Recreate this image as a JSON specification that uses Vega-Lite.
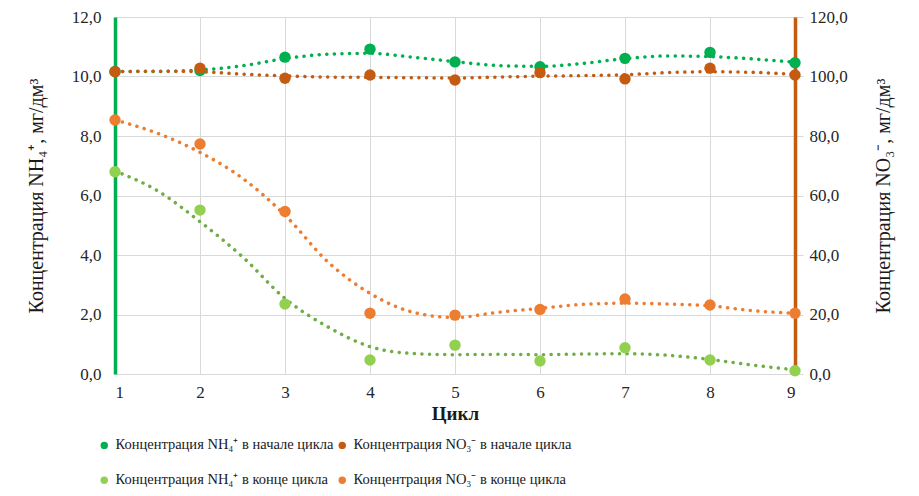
{
  "$schema": "https://vega.github.io/schema/vega-lite/v6.json",
  "width": 680,
  "height": 357,
  "autosize": {"type": "none"},
  "padding": {"left": 115, "top": 17, "right": 124, "bottom": 122},
  "background": "white",
  "config": {
    "font": "Liberation Serif",
    "view": {"stroke": null},
    "axis": {"labelFont": "Liberation Serif", "titleFont": "Liberation Serif", "labelColor": "#262626", "titleColor": "#1a1a1a", "gridColor": "#d9d9d9", "gridWidth": 1}
  },
  "datasets": {
    "points": [
      {"cycle": 1, "series": "NH4 start", "value": 10.17},
      {"cycle": 2, "series": "NH4 start", "value": 10.2},
      {"cycle": 3, "series": "NH4 start", "value": 10.65},
      {"cycle": 4, "series": "NH4 start", "value": 10.92},
      {"cycle": 5, "series": "NH4 start", "value": 10.49},
      {"cycle": 6, "series": "NH4 start", "value": 10.33},
      {"cycle": 7, "series": "NH4 start", "value": 10.61},
      {"cycle": 8, "series": "NH4 start", "value": 10.81},
      {"cycle": 9, "series": "NH4 start", "value": 10.46},
      {"cycle": 1, "series": "NH4 end", "value": 6.8},
      {"cycle": 2, "series": "NH4 end", "value": 5.51},
      {"cycle": 3, "series": "NH4 end", "value": 2.35},
      {"cycle": 4, "series": "NH4 end", "value": 0.47},
      {"cycle": 5, "series": "NH4 end", "value": 0.97},
      {"cycle": 6, "series": "NH4 end", "value": 0.44},
      {"cycle": 7, "series": "NH4 end", "value": 0.88},
      {"cycle": 8, "series": "NH4 end", "value": 0.47},
      {"cycle": 9, "series": "NH4 end", "value": 0.11},
      {"cycle": 1, "series": "NO3 start", "value": 101.6},
      {"cycle": 2, "series": "NO3 start", "value": 102.8},
      {"cycle": 3, "series": "NO3 start", "value": 99.4},
      {"cycle": 4, "series": "NO3 start", "value": 100.5},
      {"cycle": 5, "series": "NO3 start", "value": 98.8},
      {"cycle": 6, "series": "NO3 start", "value": 101.3},
      {"cycle": 7, "series": "NO3 start", "value": 99.2},
      {"cycle": 8, "series": "NO3 start", "value": 102.8},
      {"cycle": 9, "series": "NO3 start", "value": 100.5},
      {"cycle": 1, "series": "NO3 end", "value": 85.4},
      {"cycle": 2, "series": "NO3 end", "value": 77.3},
      {"cycle": 3, "series": "NO3 end", "value": 54.6},
      {"cycle": 4, "series": "NO3 end", "value": 20.4},
      {"cycle": 5, "series": "NO3 end", "value": 19.8},
      {"cycle": 6, "series": "NO3 end", "value": 21.7},
      {"cycle": 7, "series": "NO3 end", "value": 25.2},
      {"cycle": 8, "series": "NO3 end", "value": 23.2},
      {"cycle": 9, "series": "NO3 end", "value": 20.4}
    ],
    "trends": [
      {"cycle": 1, "series": "NH4 start", "value": 10.17},
      {"cycle": 1.5, "series": "NH4 start", "value": 10.17},
      {"cycle": 2, "series": "NH4 start", "value": 10.22},
      {"cycle": 2.5, "series": "NH4 start", "value": 10.36},
      {"cycle": 3, "series": "NH4 start", "value": 10.6},
      {"cycle": 3.5, "series": "NH4 start", "value": 10.75},
      {"cycle": 4, "series": "NH4 start", "value": 10.78},
      {"cycle": 4.5, "series": "NH4 start", "value": 10.65},
      {"cycle": 5, "series": "NH4 start", "value": 10.5},
      {"cycle": 5.5, "series": "NH4 start", "value": 10.37},
      {"cycle": 6, "series": "NH4 start", "value": 10.34},
      {"cycle": 6.5, "series": "NH4 start", "value": 10.44},
      {"cycle": 7, "series": "NH4 start", "value": 10.6},
      {"cycle": 7.5, "series": "NH4 start", "value": 10.69},
      {"cycle": 8, "series": "NH4 start", "value": 10.67},
      {"cycle": 8.5, "series": "NH4 start", "value": 10.59},
      {"cycle": 9, "series": "NH4 start", "value": 10.48},
      {"cycle": 1, "series": "NH4 end", "value": 6.82},
      {"cycle": 1.5, "series": "NH4 end", "value": 6.16},
      {"cycle": 2, "series": "NH4 end", "value": 5.12},
      {"cycle": 2.5, "series": "NH4 end", "value": 3.94},
      {"cycle": 3, "series": "NH4 end", "value": 2.54},
      {"cycle": 3.5, "series": "NH4 end", "value": 1.59},
      {"cycle": 4, "series": "NH4 end", "value": 0.92},
      {"cycle": 4.5, "series": "NH4 end", "value": 0.69},
      {"cycle": 5, "series": "NH4 end", "value": 0.65},
      {"cycle": 5.5, "series": "NH4 end", "value": 0.66},
      {"cycle": 6, "series": "NH4 end", "value": 0.65},
      {"cycle": 6.5, "series": "NH4 end", "value": 0.67},
      {"cycle": 7, "series": "NH4 end", "value": 0.68},
      {"cycle": 7.5, "series": "NH4 end", "value": 0.63},
      {"cycle": 8, "series": "NH4 end", "value": 0.49},
      {"cycle": 8.5, "series": "NH4 end", "value": 0.3},
      {"cycle": 9, "series": "NH4 end", "value": 0.14},
      {"cycle": 1, "series": "NO3 start", "value": 101.6},
      {"cycle": 1.5, "series": "NO3 start", "value": 101.8},
      {"cycle": 2, "series": "NO3 start", "value": 101.6},
      {"cycle": 2.5, "series": "NO3 start", "value": 100.8},
      {"cycle": 3, "series": "NO3 start", "value": 100.2},
      {"cycle": 3.5, "series": "NO3 start", "value": 99.8},
      {"cycle": 4, "series": "NO3 start", "value": 99.7},
      {"cycle": 4.5, "series": "NO3 start", "value": 99.6},
      {"cycle": 5, "series": "NO3 start", "value": 99.5},
      {"cycle": 5.5, "series": "NO3 start", "value": 99.8},
      {"cycle": 6, "series": "NO3 start", "value": 100.1},
      {"cycle": 6.5, "series": "NO3 start", "value": 100.3},
      {"cycle": 7, "series": "NO3 start", "value": 100.6},
      {"cycle": 7.5, "series": "NO3 start", "value": 101.3},
      {"cycle": 8, "series": "NO3 start", "value": 101.6},
      {"cycle": 8.5, "series": "NO3 start", "value": 101.4},
      {"cycle": 9, "series": "NO3 start", "value": 100.7},
      {"cycle": 1, "series": "NO3 end", "value": 85.4},
      {"cycle": 1.5, "series": "NO3 end", "value": 80.9},
      {"cycle": 2, "series": "NO3 end", "value": 74.5},
      {"cycle": 2.5, "series": "NO3 end", "value": 65.8},
      {"cycle": 3, "series": "NO3 end", "value": 53.4},
      {"cycle": 3.5, "series": "NO3 end", "value": 37.8},
      {"cycle": 4, "series": "NO3 end", "value": 27.1},
      {"cycle": 4.5, "series": "NO3 end", "value": 20.8},
      {"cycle": 5, "series": "NO3 end", "value": 19.0},
      {"cycle": 5.5, "series": "NO3 end", "value": 20.7},
      {"cycle": 6, "series": "NO3 end", "value": 22.1},
      {"cycle": 6.5, "series": "NO3 end", "value": 23.4},
      {"cycle": 7, "series": "NO3 end", "value": 23.8},
      {"cycle": 7.5, "series": "NO3 end", "value": 23.5},
      {"cycle": 8, "series": "NO3 end", "value": 22.9},
      {"cycle": 8.5, "series": "NO3 end", "value": 21.3},
      {"cycle": 9, "series": "NO3 end", "value": 20.4}
    ]
  },
  "layer": [
    {
      "encoding": {
        "x": {"field": "cycle", "type": "quantitative", "scale": {"domain": [1, 9], "nice": false, "zero": false},
          "axis": {"title": "Цикл", "titleFont": "Liberation Serif", "labelFont": "Liberation Serif", "titleFontSize": 19, "titleFontWeight": "bold", "titlePadding": 4, "labelFontSize": 17, "labelPadding": 10, "values": [1,2,3,4,5,6,7,8,9], "domain": false, "ticks": false, "grid": true, "format": "d"}},
        "y": {"field": "value", "type": "quantitative", "scale": {"domain": [0, 12], "nice": false},
          "axis": {"orient": "left", "title": "Концентрация NH₄⁺, мг/дм³", "titleFont": "Liberation Serif", "labelFont": "Liberation Serif", "titleFontSize": 20, "titleFontWeight": "normal", "titlePadding": 25, "labelFontSize": 17, "labelPadding": 14, "values": [0,2,4,6,8,10,12], "labelExpr": "replace(format(datum.value, '.1f'), '.', ',')", "domain": true, "domainColor": "#00B050", "domainWidth": 3.5, "ticks": false, "grid": true}}
      },
      "layer": [
        {
          "data": {"name": "trends"},
          "transform": [{"filter": "datum.series == 'NH4 start'"}],
          "mark": {"type": "line", "color": "#00B050", "interpolate": "monotone", "strokeWidth": 3.5, "strokeCap": "round", "strokeDash": [0.1, 7.5]}
        },
        {
          "data": {"name": "trends"},
          "transform": [{"filter": "datum.series == 'NH4 end'"}],
          "mark": {"type": "line", "color": "#70AD47", "interpolate": "monotone", "strokeWidth": 3.5, "strokeCap": "round", "strokeDash": [0.1, 7.5]}
        },
        {
          "data": {"name": "points"},
          "transform": [{"filter": "indexof(datum.series, 'NH4') >= 0"}],
          "mark": {"type": "point", "filled": true, "opacity": 1, "size": 130},
          "encoding": {"color": {"field": "series", "type": "nominal",
            "scale": {"domain": ["NH4 start", "NH4 end", "NO3 start", "NO3 end"], "range": ["#00B050", "#92D050", "#C55A11", "#ED7D31"]},
            "legend": {"orient": "none", "legendX": -18, "legendY": 421, "columns": 2, "columnPadding": 1, "rowPadding": 20, "title": null, "symbolType": "circle", "symbolSize": 55, "labelFont": "Liberation Serif", "labelFontSize": 14.5, "labelColor": "#1a1a1a", "labelLimit": 400,
              "labelExpr": "datum.value == 'NH4 start' ? 'Концентрация NH₄⁺ в начале цикла' : datum.value == 'NO3 start' ? 'Концентрация NO₃⁻ в начале цикла' : datum.value == 'NH4 end' ? 'Концентрация NH₄⁺ в конце цикла' : 'Концентрация NO₃⁻ в конце цикла'"}}}
        }
      ]
    },
    {
      "encoding": {
        "x": {"field": "cycle", "type": "quantitative", "scale": {"domain": [1, 9], "nice": false, "zero": false}},
        "y": {"field": "value", "type": "quantitative", "scale": {"domain": [0, 120], "nice": false},
          "axis": {"orient": "right", "title": "Концентрация NO₃⁻, мг/дм³", "titleFont": "Liberation Serif", "labelFont": "Liberation Serif", "titleAngle": 270, "titleFontSize": 20, "titleFontWeight": "normal", "titlePadding": 46, "labelFontSize": 17, "labelPadding": 6, "values": [0,20,40,60,80,100,120], "labelExpr": "replace(format(datum.value, '.1f'), '.', ',')", "domain": true, "domainColor": "#C55A11", "domainWidth": 3.5, "ticks": true, "tickColor": "#d9d9d9", "tickSize": 8, "grid": false}}
      },
      "layer": [
        {
          "data": {"name": "trends"},
          "transform": [{"filter": "datum.series == 'NO3 start'"}],
          "mark": {"type": "line", "color": "#C55A11", "interpolate": "monotone", "strokeWidth": 3.5, "strokeCap": "round", "strokeDash": [0.1, 7.5]}
        },
        {
          "data": {"name": "trends"},
          "transform": [{"filter": "datum.series == 'NO3 end'"}],
          "mark": {"type": "line", "color": "#ED7D31", "interpolate": "monotone", "strokeWidth": 3.5, "strokeCap": "round", "strokeDash": [0.1, 7.5]}
        },
        {
          "data": {"name": "points"},
          "transform": [{"filter": "indexof(datum.series, 'NO3') >= 0"}],
          "mark": {"type": "point", "filled": true, "opacity": 1, "size": 130},
          "encoding": {"color": {"field": "series", "type": "nominal",
            "scale": {"domain": ["NH4 start", "NH4 end", "NO3 start", "NO3 end"], "range": ["#00B050", "#92D050", "#C55A11", "#ED7D31"]}}}
        }
      ]
    }
  ],
  "resolve": {"scale": {"y": "independent"}}
}
